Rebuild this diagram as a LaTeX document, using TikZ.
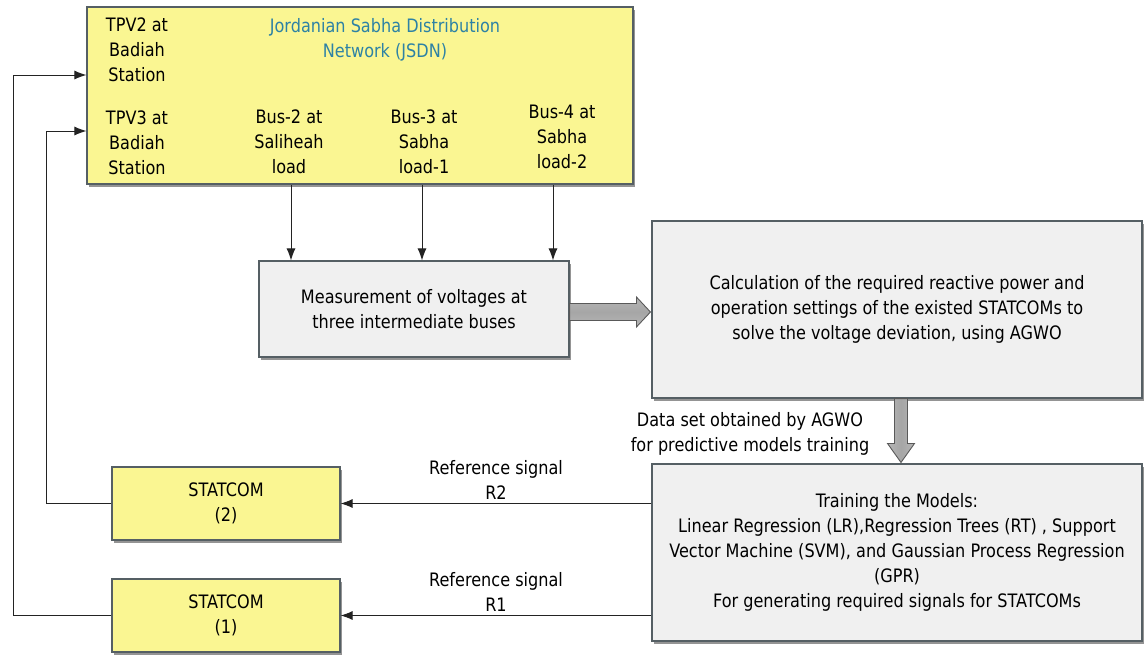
\documentclass[tikz,border=0pt]{standalone}
\usepackage{fontspec}
\setmainfont{DejaVu Sans}[FakeStretch=0.87]
\usetikzlibrary{arrows.meta,shadows,calc}
\definecolor{boxyellow}{RGB}{250,246,146}
\definecolor{boxgray}{RGB}{240,240,240}
\definecolor{edgegray}{RGB}{85,95,100}
\definecolor{titleblue}{RGB}{45,130,165}
\definecolor{arrowgray}{RGB}{150,150,150}
\definecolor{linegray}{RGB}{35,35,35}
\tikzset{
  base/.style={draw=edgegray, line width=1.1pt, align=center, inner sep=0pt,
    drop shadow={shadow xshift=1.5pt, shadow yshift=-2.5pt, opacity=0.6, fill=black!70}},
  ybox/.style={base, fill=boxyellow},
  gbox/.style={base, fill=boxgray},
  txt/.style={align=center, inner sep=0pt, font=\fontsize{18.5}{25}\selectfont},
  arr/.style={draw=linegray, line width=1pt, -{Latex[length=12pt,width=9pt]}},
  blk/.style={draw=black!65, line width=0.9pt, top color=arrowgray!70, bottom color=arrowgray!70, middle color=black!35},
}
\begin{document}
\begin{tikzpicture}[x=1pt,y=-1pt, font=\fontsize{18.5}{25}\selectfont]
\useasboundingbox (0,0) rectangle (1144,654);

% boxes
\node[ybox, minimum width=546pt, minimum height=177pt] (top) at (360,95.5) {};
\node[gbox, minimum width=310pt, minimum height=96pt] (meas) at (414,309)
  {Measurement of voltages at\\three intermediate buses};
\node[gbox, minimum width=490pt, minimum height=177pt] (calc) at (897,309.5)
  {Calculation of the required reactive power and\\operation settings of the existed STATCOMs to\\solve the voltage deviation, using AGWO};
\node[gbox, minimum width=490pt, minimum height=177pt] (train) at (897,552.5)
  {Training the Models:\\Linear Regression (LR),Regression Trees (RT) , Support\\Vector Machine (SVM), and Gaussian Process Regression\\(GPR)\\For generating required signals for STATCOMs};
\node[ybox, minimum width=228pt, minimum height=73pt] (stat2) at (226,503.5) {STATCOM\\(2)};
\node[ybox, minimum width=228pt, minimum height=73pt] (stat1) at (226,615.5) {STATCOM\\(1)};

% texts inside the top box
\node[txt] (tpv2) at (137,50) {TPV2 at\\Badiah\\Station};
\node[txt, text=titleblue] (title) at (385,40) {Jordanian Sabha Distribution\\Network (JSDN)};
\node[txt] (tpv3) at (137,143) {TPV3 at\\Badiah\\Station};
\node[txt] (bus2) at (289,142) {Bus-2 at\\Saliheah\\load};
\node[txt] (bus3) at (424,142) {Bus-3 at\\Sabha\\load-1};
\node[txt] (bus4) at (562,137) {Bus-4 at\\Sabha\\load-2};

% labels
\node[txt] (dlab) at (750,433.5) {Data set obtained by AGWO\\for predictive models training};
\node[txt] (r2lab) at (496,479.5) {Reference signal\\R2};
\node[txt] (r1lab) at (496,591.5) {Reference signal\\R1};

% measurement arrows
\coordinate (m2) at (291,0);
\coordinate (m3) at (422,0);
\coordinate (m4) at (553,0);
\draw[arr] (top.south -| m2) -- (meas.north -| m2);
\draw[arr] (top.south -| m3) -- (meas.north -| m3);
\draw[arr] (top.south -| m4) -- (meas.north -| m4);

% block arrow meas -> calc
\coordinate (h1) at ($(meas.east)+(0,3)$);
\coordinate (h2) at ($(calc.west)+(-1,2.5)$);
\draw[blk] ($(h1)+(0,-8.5)$) -- ($(h2)+(-14,-8.5)$) -- ($(h2)+(-14,-15)$) -- (h2)
  -- ($(h2)+(-14,15)$) -- ($(h2)+(-14,8.5)$) -- ($(h1)+(0,8.5)$) -- cycle;

% block arrow calc -> train
\coordinate (v1) at ($(calc.south)+(4,0)$);
\coordinate (v2) at ($(train.north -| v1)+(0,-1)$);
\draw[blk, shading angle=90] ($(v1)+(-6.5,0)$) -- ($(v2)+(-6.5,-19)$) -- ($(v2)+(-13.5,-19)$) -- (v2)
  -- ($(v2)+(13.5,-19)$) -- ($(v2)+(6.5,-19)$) -- ($(v1)+(6.5,0)$) -- cycle;

% reference signals
\draw[arr] (train.west |- stat2.east) -- (stat2.east);
\draw[arr] (train.west |- stat1.east) -- (stat1.east);

% feedback to the network
\coordinate (in2) at ($(top.west)+(0,-20.5)$);
\coordinate (in3) at ($(top.west)+(0,35.5)$);
\draw[arr] (stat1.west) -- (13,615.5) -- (13,75) -- (in2);
\draw[arr] (stat2.west) -- (46,503.5) -- (46,131) -- (in3);
\end{tikzpicture}
\end{document}
